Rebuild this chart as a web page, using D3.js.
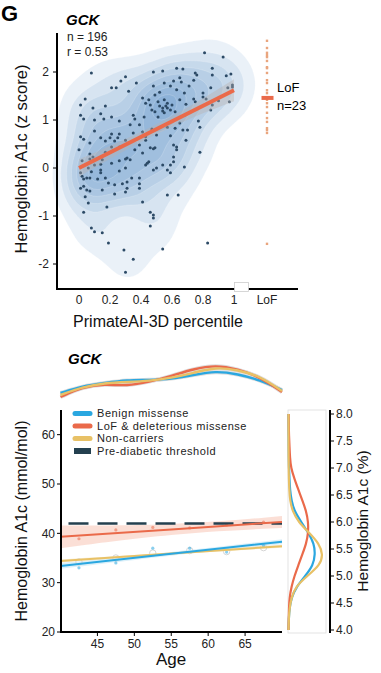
<!DOCTYPE html>
<html><head><meta charset="utf-8">
<script src="https://cdn.jsdelivr.net/npm/d3@7"></script>
<style>body{margin:0;background:#fff}svg{display:block;font-family:"Liberation Sans",Arial,sans-serif}</style>
</head><body><svg id="c" width="381" height="673"></svg>
<script>
// ---------- Panel G top: GCK PrimateAI-3D vs HbA1c z score ----------
const scatterPoints = [
[0.08,1.98],[0.30,1.90],[0.27,1.81],[0.24,1.67],[0.21,1.67],[0.32,1.60],[0.37,1.77],[0.41,1.46],[0.43,1.35],[0.45,1.42],
[0.04,1.44],[0.01,1.31],[0.09,1.25],[0.17,1.29],[0.14,1.13],[0.10,1.00],[0.03,1.02],[0.01,1.10],[0.16,1.02],[0.21,1.06],
[0.35,1.10],[0.36,1.02],[0.42,1.06],[0.26,0.98],[0.10,0.77],[0.01,0.65],[0.03,0.60],[0.07,0.52],[0.14,0.63],[0.17,0.56],
[0.20,0.63],[0.21,0.71],[0.23,0.56],[0.26,0.71],[0.25,0.63],[0.07,0.29],[0.09,0.23],[0.35,0.73],[0.41,0.75],[0.43,0.65],
[0.39,0.48],[0.31,0.21],[0.17,0.33],
[0.81,2.40],[0.93,2.31],[0.48,2.00],[0.54,2.02],[0.63,2.08],[0.67,2.06],[0.75,1.98],[0.76,1.94],[0.86,2.08],[0.86,1.94],
[0.98,1.96],[0.95,1.92],[0.55,1.77],[0.61,1.81],[0.65,1.88],[0.66,1.79],[0.74,1.83],[0.80,1.56],[0.80,1.48],[0.82,1.44],
[0.85,1.67],[0.86,1.31],[0.96,1.67],[0.99,1.69],[0.99,1.73],[0.97,1.38],[0.90,1.40],[0.85,1.21],[0.48,1.71],[0.49,1.52],
[0.52,1.58],[0.59,1.71],[0.63,1.63],[0.68,1.56],[0.71,1.71],[0.74,1.44],[0.75,1.38],[0.69,1.33],[0.65,1.42],[0.55,1.42],
[0.51,1.38],[0.52,1.29],[0.56,1.29],[0.57,1.25],[0.60,1.31],[0.46,1.31],[0.47,1.21],[0.49,1.17],[0.51,1.06],[0.55,1.15],
[0.65,0.94],[0.68,1.10],[0.62,0.83],[0.67,0.79],[0.47,0.81],[0.57,0.85],[0.50,0.69],[0.59,0.67],[0.61,0.48],[0.70,0.79],
[0.69,0.58],[0.78,0.85],[0.77,0.98],[0.49,0.42],[0.63,0.44],[0.78,0.33],[0.61,0.23],
[0.02,0.15],[0.07,0.19],[0.14,0.08],[0.15,0.17],[0.21,0.10],[0.26,0.15],[0.30,0.19],[0.33,0.17],[0.30,0.00],[0.26,-0.06],
[0.14,-0.04],[0.14,-0.10],[0.12,-0.23],[0.07,-0.21],[0.05,-0.21],[0.03,-0.23],[0.02,-0.17],[0.01,-0.42],[0.03,-0.38],[0.05,-0.46],
[0.07,-0.48],[0.04,-0.60],[0.06,-0.73],[0.03,-0.92],[0.19,-0.31],[0.15,-0.46],[0.18,-0.81],[0.23,-0.54],[0.28,-0.33],[0.31,-0.29],
[0.31,-0.42],[0.30,-0.50],[0.34,-0.21],[0.39,-0.21],[0.39,-0.33],[0.39,-0.42],[0.41,-0.71],[0.45,0.13],[0.43,0.06],[0.46,-0.92],
[0.46,-1.21],[0.08,-1.25],[0.10,-1.33],[0.15,-1.35],[0.19,-1.56],[0.29,-1.71],[0.35,-1.90],[0.30,-2.17],
[0.21,0.44],[0.26,0.44],[0.41,0.31],[0.46,0.42],[0.48,0.40],[0.44,0.10],[0.48,-0.04],[0.50,0.00],[0.54,0.06],[0.57,-0.04],
[0.59,-0.10],[0.61,0.13],[0.59,0.06],[0.68,0.02],[0.63,0.38],[0.57,-0.56],[0.64,-0.56],[0.48,-0.98],[0.48,-1.04],[0.54,-1.69],
[0.83,-1.56],[0.01,-0.10],
[0.54,1.25],[0.57,1.35],[0.59,1.21],[0.54,1.19],[0.62,1.17],[0.39,0.90],[0.33,0.90],[0.30,0.58],[0.36,0.38],[0.43,0.58],
[0.10,0.06],[0.17,-0.21],[0.23,-0.35],[0.06,0.00],[0.08,-0.08],[0.00,0.38]
];
const lofValues = [2.65,2.50,2.40,2.35,2.31,2.23,2.10,2.08,1.98,1.83,1.77,1.62,1.56,1.42,1.35,1.27,1.15,1.04,0.96,0.83,0.79,0.73,-1.58];
const lofMean = 1.46;
const regIntercept = 0.0, regSlope = 1.62;
const regCiX = [0, 0.25, 0.5, 0.75, 1];
const regCiHalf = [0.18, 0.12, 0.09, 0.13, 0.23];
const pctTicks = [0, 0.2, 0.4, 0.6, 0.8, 1];
const pctTickLabels = ["0", "0.2", "0.4", "0.6", "0.8", "1"];
const zTicks = [-2, -1, 0, 1, 2];

// ---------- Panel G bottom: HbA1c vs age ----------
const groups = ["Benign missense", "LoF & deleterious missense", "Non-carriers"];
const groupColors = ["#2AA7E0", "#EA6A4A", "#E8C166"];
const ageGrid = [40, 43, 46, 49, 52, 55, 58, 61, 64, 67, 70];
const ageDensBenign = [7, 14, 17, 20, 20, 21, 25, 29, 26, 20, 10];
const ageDensLof    = [3, 13, 16, 14, 18, 24, 31, 35, 31, 23, 8];
const ageDensNon    = [5, 13, 17, 18, 19, 22, 27, 33, 30, 24, 9];
const fitAges = [40, 55, 70];
const fitBenign = [33.4, 35.85, 38.3];
const fitLof    = [39.3, 40.8, 42.3];
const fitNon    = [34.4, 35.9, 37.4];
const ciBenign = [0.6, 0.3, 0.5];
const ciLof    = [2.3, 0.8, 1.2];
const ciNon    = [0.3, 0.15, 0.3];
const binAges = [42.5, 47.5, 52.5, 57.5, 62.5, 67.5];
const binBenign = [33.0, 34.0, 37.0, 37.0, 36.2, 37.5];
const binLof    = [38.9, 40.7, 41.2, 41.1, 41.7, 42.3];
const binNon    = [34.2, 35.0, 36.0, 36.5, 36.3, 37.1];
const threshold = 42;
const mmolTicks = [20, 30, 40, 50, 60];
const ageTicks = [45, 50, 55, 60, 65];
const pctA1cGrid = [4.0,4.2,4.4,4.6,4.8,5.0,5.2,5.4,5.6,5.8,6.0,6.2,6.4,6.6,6.8,7.0,7.2,7.4,7.6,7.8,8.0];
const a1cDensBenign = [0,0.3,1,3,8,17,25,27,26,20,13,6,3,1.5,1,0.5,0.3,0.2,0.1,0,0];
const a1cDensLof    = [0,0.2,0.5,1,3,6,10,14,18,20,20,18,14,10,6,2.5,1.5,1,0.5,0.3,0.2];
const a1cDensNon    = [0,0.3,1,3,7,19,32,35,31,21,10,4,1.5,0.8,0.4,0.2,0.1,0,0,0,0];
const pctTicksRight = [4.0,4.5,5.0,5.5,6.0,6.5,7.0,7.5,8.0];

const svg = d3.select("#c");
svg.append("rect").attr("width",381).attr("height",673).attr("fill","#fff");

// ===== TOP PANEL =====
const xS = d3.scaleLinear().domain([0,1]).range([79,234]);
const xLoF = 267;
const zS = d3.scaleLinear().domain([0,2]).range([168,72]);

svg.append("text").attr("x",1).attr("y",21).attr("font-size",22).attr("font-weight","bold").text("G");

// density contours
const bw = 14;
const probe = d3.contourDensity().x(d=>xS(d[0])).y(d=>zS(d[1])).size([381,340]).bandwidth(bw).thresholds(60)(scatterPoints);
const maxD = d3.max(probe, c=>c.value);
const thr = [0.07,0.18,0.3,0.42,0.55,0.68,0.8,0.92].map(f=>f*maxD);
const contours = d3.contourDensity().x(d=>xS(d[0])).y(d=>zS(d[1])).size([381,340]).bandwidth(bw).thresholds(thr)(scatterPoints);
svg.append("g").selectAll("path").data(contours).join("path")
  .attr("d", d3.geoPath()).attr("fill","#4F8DC8").attr("fill-opacity",0.12)
  .attr("stroke","#fff").attr("stroke-opacity",0.35).attr("stroke-width",0.5);

// points
svg.append("g").selectAll("circle").data(scatterPoints).join("circle")
  .attr("cx",d=>xS(d[0])).attr("cy",d=>zS(d[1])).attr("r",1.5).attr("fill","#2C4A66");

// regression band & line
const band = d3.area().x((d,i)=>xS(regCiX[i]))
  .y0((d,i)=>zS(regIntercept+regSlope*regCiX[i]-regCiHalf[i]))
  .y1((d,i)=>zS(regIntercept+regSlope*regCiX[i]+regCiHalf[i])).curve(d3.curveBasis);
svg.append("path").attr("d",band(regCiX)).attr("fill","#B9B2B0").attr("fill-opacity",0.4);
svg.append("line").attr("x1",xS(0)).attr("y1",zS(regIntercept)).attr("x2",xS(1)).attr("y2",zS(regIntercept+regSlope))
  .attr("stroke","#EA6A4A").attr("stroke-width",4);

// LoF column
svg.append("g").selectAll("rect").data(lofValues).join("rect")
  .attr("x",xLoF-1.2).attr("y",d=>zS(d)-1.2).attr("width",2.4).attr("height",2.4).attr("fill","#E9A57E");
svg.append("rect").attr("x",xLoF-5.5).attr("y",zS(lofMean)-2).attr("width",12).attr("height",4).attr("fill","#EA6A4A");
svg.append("text").attr("x",277).attr("y",zS(lofMean)-6).attr("font-size",13).text("LoF");
svg.append("text").attr("x",277).attr("y",zS(lofMean)+12).attr("font-size",13).text("n=23");

// axes
svg.append("line").attr("x1",57).attr("x2",57).attr("y1",33).attr("y2",290).attr("stroke","#000").attr("stroke-width",2);
svg.append("line").attr("x1",56).attr("x2",298).attr("y1",289).attr("y2",289).attr("stroke","#000").attr("stroke-width",2);
svg.append("rect").attr("x",234.5).attr("y",282.5).attr("width",14).attr("height",9).attr("fill","#fff").attr("stroke","#ccc").attr("stroke-width",0.8);
zTicks.forEach(t=>{
  svg.append("line").attr("x1",53).attr("x2",57).attr("y1",zS(t)).attr("y2",zS(t)).attr("stroke","#000");
  svg.append("text").attr("x",49).attr("y",zS(t)).attr("dy","0.35em").attr("text-anchor","end").attr("font-size",12).attr("fill","#222").text(String(t));
});
pctTicks.forEach((t,i)=>{
  svg.append("text").attr("x",xS(t)).attr("y",304).attr("text-anchor","middle").attr("font-size",12).attr("fill","#222").text(pctTickLabels[i]);
});
svg.append("text").attr("x",xLoF).attr("y",304).attr("text-anchor","middle").attr("font-size",12).attr("fill","#222").text("LoF");
svg.append("text").attr("x",158).attr("y",327).attr("text-anchor","middle").attr("font-size",16).attr("fill","#111").text("PrimateAI-3D percentile");
svg.append("text").attr("transform","translate(27,159) rotate(-90)").attr("text-anchor","middle").attr("font-size",16.5).attr("fill","#111").text("Hemoglobin A1c (z score)");
svg.append("text").attr("x",66).attr("y",25).attr("font-size",15).attr("font-weight","bold").attr("font-style","italic").text("GCK");
svg.append("text").attr("x",67).attr("y",41).attr("font-size",12).attr("fill","#222").text("n = 196");
svg.append("text").attr("x",67).attr("y",56).attr("font-size",12).attr("fill","#222").text("r = 0.53");

// ===== BOTTOM PANEL =====
const aS = d3.scaleLinear().domain([40,70]).range([60.5,282]);
const mS = d3.scaleLinear().domain([20,65]).range([632,410]);
const pS = d3.scaleLinear().domain([4,8]).range([630,414]);

svg.append("text").attr("x",68).attr("y",364).attr("font-size",15).attr("font-weight","bold").attr("font-style","italic").text("GCK");

// top marginal densities
const dS = d3.scaleLinear().domain([0,40]).range([400,360]);
const margLine = d3.line().x((d,i)=>aS(ageGrid[i])).y(d=>dS(d)).curve(d3.curveBasis);
[ageDensBenign, ageDensLof, ageDensNon].forEach(arr=>{
  svg.append("path").attr("d",margLine(arr)).attr("fill","none").attr("stroke","#ddd").attr("stroke-width",4);
});
[ageDensBenign, ageDensLof, ageDensNon].forEach((arr,gi)=>{
  svg.append("path").attr("d",margLine(arr)).attr("fill","none").attr("stroke",groupColors[gi]).attr("stroke-width",2.4);
});

// bands
const fits = [fitBenign, fitLof, fitNon];
const cis = [ciBenign, ciLof, ciNon];
const bandCols = ["#BFE3F4","#F8C4B5","#F3E2B5"];
[1,0,2].forEach(gi=>{
  const ar = d3.area().x((d,i)=>aS(fitAges[i])).y0((d,i)=>mS(fits[gi][i]-cis[gi][i])).y1((d,i)=>mS(fits[gi][i]+cis[gi][i])).curve(d3.curveBasis);
  svg.append("path").attr("d",ar(fitAges)).attr("fill",bandCols[gi]).attr("fill-opacity",0.55);
});
// bin points
const bins = [binBenign, binLof, binNon];
binAges.forEach((a,i)=>{
  svg.append("circle").attr("cx",aS(a)).attr("cy",mS(binNon[i])).attr("r",3.2).attr("fill","none").attr("stroke","#d6d6d6").attr("stroke-width",1);
});
[0,1].forEach(gi=>{
  binAges.forEach((a,i)=>{
    svg.append("circle").attr("cx",aS(a)).attr("cy",mS(bins[gi][i])).attr("r",1.6).attr("fill",groupColors[gi]).attr("fill-opacity",0.55);
  });
});
// threshold
svg.append("line").attr("x1",aS(40)).attr("x2",aS(70)).attr("y1",mS(threshold)).attr("y2",mS(threshold))
  .attr("stroke","#24404F").attr("stroke-width",2.5).attr("stroke-dasharray","20,9").attr("stroke-dashoffset",-8);
// fit lines
[2,0,1].forEach(gi=>{
  const ln = d3.line().x((d,i)=>aS(fitAges[i])).y(d=>mS(d));
  svg.append("path").attr("d",ln(fits[gi])).attr("fill","none").attr("stroke",groupColors[gi]).attr("stroke-width",2);
});

// axes bottom
svg.append("line").attr("x1",61).attr("x2",61).attr("y1",410).attr("y2",633).attr("stroke","#000").attr("stroke-width",2);
svg.append("line").attr("x1",60).attr("x2",282).attr("y1",632).attr("y2",632).attr("stroke","#000").attr("stroke-width",2);
mmolTicks.forEach(t=>{
  svg.append("line").attr("x1",57).attr("x2",61).attr("y1",mS(t)).attr("y2",mS(t)).attr("stroke","#000");
  svg.append("text").attr("x",55).attr("y",mS(t)).attr("dy","0.35em").attr("text-anchor","end").attr("font-size",12).attr("fill","#222").text(t);
});
ageTicks.forEach(t=>{
  svg.append("line").attr("x1",aS(t)).attr("x2",aS(t)).attr("y1",632).attr("y2",636).attr("stroke","#000");
  svg.append("text").attr("x",aS(t)).attr("y",648).attr("text-anchor","middle").attr("font-size",12).attr("fill","#222").text(t);
});
svg.append("text").attr("x",171).attr("y",665).attr("text-anchor","middle").attr("font-size",17).attr("fill","#111").text("Age");
svg.append("text").attr("transform","translate(27,521) rotate(-90)").attr("text-anchor","middle").attr("font-size",16).attr("fill","#111").text("Hemoglobin A1c (mmol/mol)");

// legend
const legY = [413.5, 426, 438.5, 451];
groups.forEach((g,i)=>{
  const y = legY[i];
  svg.append("line").attr("x1",75).attr("x2",90).attr("y1",y).attr("y2",y).attr("stroke",groupColors[i]).attr("stroke-width",5).attr("stroke-linecap","round");
  svg.append("text").attr("x",97).attr("y",y).attr("dy","0.35em").attr("font-size",11).attr("letter-spacing",0.55).attr("fill","#222").text(g);
});
svg.append("rect").attr("x",74).attr("y",legY[3]-3).attr("width",17).attr("height",6).attr("fill","#24404F");
svg.append("text").attr("x",97).attr("y",legY[3]).attr("dy","0.35em").attr("font-size",11).attr("letter-spacing",0.55).attr("fill","#222").text("Pre-diabetic threshold");

// right marginal
svg.append("rect").attr("x",288).attr("y",410).attr("width",38).attr("height",223).attr("fill","#fff").attr("stroke","#ddd").attr("stroke-width",0.8);
const rdS = d3.scaleLinear().domain([0,38]).range([288.5,326]);
const rLine = d3.line().x(d=>rdS(d)).y((d,i)=>pS(pctA1cGrid[i])).curve(d3.curveBasis);
[a1cDensBenign, a1cDensLof, a1cDensNon].forEach((arr,gi)=>{
  svg.append("path").attr("d",rLine(arr)).attr("fill","none").attr("stroke",groupColors[gi]).attr("stroke-width",2.2);
});
svg.append("line").attr("x1",330).attr("x2",330).attr("y1",410).attr("y2",633).attr("stroke","#000").attr("stroke-width",2);
pctTicksRight.forEach(t=>{
  svg.append("line").attr("x1",330).attr("x2",334).attr("y1",pS(t)).attr("y2",pS(t)).attr("stroke","#000");
  svg.append("text").attr("x",336).attr("y",pS(t)).attr("dy","0.35em").attr("font-size",12).attr("fill","#222").text(t.toFixed(1));
});
svg.append("text").attr("transform","translate(368,521) rotate(-90)").attr("text-anchor","middle").attr("font-size",15.5).attr("fill","#111").text("Hemoglobin A1c (%)");
</script></body></html>
